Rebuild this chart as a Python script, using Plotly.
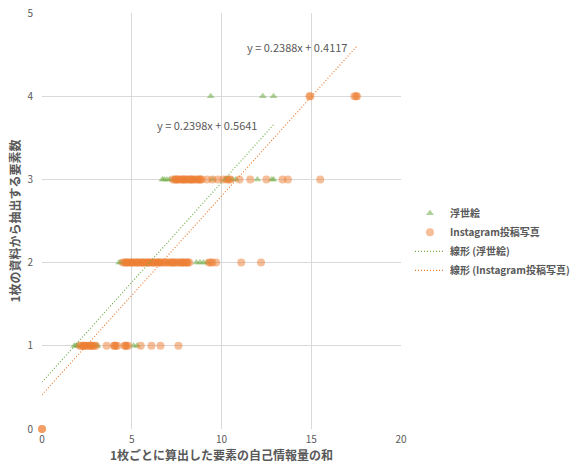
import plotly.graph_objects as go

# ---- data -------------------------------------------------------------
# 浮世絵 (ukiyo-e): x = sum of self-information, y = number of elements
ukiyoe_x = [
    1.8, 1.9, 2.0, 2.2, 2.5, 2.8, 3.0, 3.1, 5.1, 5.3,
    4.3, 4.4, 4.6, 5.0, 5.5, 6.0, 6.5, 7.0, 8.6, 8.8, 9.0, 9.2,
    6.7, 6.8, 6.95, 7.1, 7.3, 8.0, 8.5, 9.5, 10.2, 10.4, 10.6, 10.8, 12.0, 12.8, 12.9,
    9.4, 12.3, 12.9,
]
ukiyoe_y = [
    1, 1, 1, 1, 1, 1, 1, 1, 1, 1,
    2, 2, 2, 2, 2, 2, 2, 2, 2, 2, 2, 2,
    3, 3, 3, 3, 3, 3, 3, 3, 3, 3, 3, 3, 3, 3, 3,
    4, 4, 4,
]

# Instagram投稿写真 (Instagram posts)
insta_x0 = [0.0, 0.0]
insta_x1 = [2.1, 2.2, 2.3, 2.35, 2.4, 2.5, 2.6, 2.7, 2.75, 2.8, 2.9, 3.0,
            3.6, 4.0, 4.05, 4.1, 4.2, 4.6, 4.65, 4.7, 4.8, 5.5, 6.1, 6.6, 7.6]
insta_x2 = [4.5, 4.6, 4.7, 4.8, 4.9, 5.0, 5.1, 5.2, 5.3, 5.4, 5.5, 5.6, 5.7,
            5.8, 5.9, 6.0, 6.1, 6.2, 6.3, 6.4, 6.5, 6.6, 6.7, 6.8, 6.9, 7.0,
            7.1, 7.2, 7.3, 7.4, 7.5, 7.6, 7.7, 7.8, 7.9, 8.0, 8.1, 8.2,
            4.7, 5.0, 5.3, 5.6, 5.9, 6.2, 6.5, 7.3, 7.8, 8.1,
            9.3, 9.4, 9.5, 9.7, 11.1, 12.2]
insta_x3 = [7.3, 7.4, 7.5, 7.6, 7.7, 7.8, 7.9, 8.0, 8.1, 8.2, 8.3, 8.4, 8.5,
            8.6, 8.7, 8.8, 8.9, 7.5, 7.9, 8.3, 8.8,
            9.2, 9.5, 9.8, 10.1, 10.3, 10.4, 10.5, 11.0, 11.6, 12.5, 13.4, 13.7, 15.5]
insta_x4 = [14.9, 14.95, 17.4, 17.5, 17.55]

insta_x = insta_x0 + insta_x1 + insta_x2 + insta_x3 + insta_x4
insta_y = ([0] * len(insta_x0) + [1] * len(insta_x1) + [2] * len(insta_x2)
           + [3] * len(insta_x3) + [4] * len(insta_x4))

# linear trendlines (slope, intercept) and their x extents
ukiyoe_fit = (0.2398, 0.5641)
insta_fit = (0.2388, 0.4117)
ukiyoe_fit_x = [0, 12.95]
insta_fit_x = [0, 17.55]

GREEN = "#70AD47"
ORANGE = "#ED7D31"
TXT = "#595959"
FONT = "Noto Sans CJK JP"

fig = go.Figure()

fig.add_trace(go.Scatter(
    x=ukiyoe_x, y=ukiyoe_y, mode="markers", name="浮世絵",
    marker=dict(symbol="triangle-up", size=7, color=GREEN, opacity=0.55),
    cliponaxis=False,
))
fig.add_trace(go.Scatter(
    x=insta_x, y=insta_y, mode="markers", name="Instagram投稿写真",
    marker=dict(symbol="circle", size=8, color=ORANGE, opacity=0.5),
    cliponaxis=False,
))
fig.add_trace(go.Scatter(
    x=ukiyoe_fit_x, y=[ukiyoe_fit[0] * v + ukiyoe_fit[1] for v in ukiyoe_fit_x],
    mode="lines", name="線形 (浮世絵)",
    line=dict(color=GREEN, width=1.2, dash="1px,2px"),
))
fig.add_trace(go.Scatter(
    x=insta_fit_x, y=[insta_fit[0] * v + insta_fit[1] for v in insta_fit_x],
    mode="lines", name="線形 (Instagram投稿写真)",
    line=dict(color=ORANGE, width=1.2, dash="1px,2px"),
))

eq_font = dict(family=FONT, size=11, color=TXT)
fig.add_annotation(x=14.2, y=4.59, text=f"y = {insta_fit[0]}x + {insta_fit[1]}",
                   showarrow=False, font=eq_font)
fig.add_annotation(x=9.2, y=3.65, text=f"y = {ukiyoe_fit[0]}x + {ukiyoe_fit[1]}",
                   showarrow=False, font=eq_font)

axis_common = dict(
    showgrid=True, gridcolor="#D9D9D9", gridwidth=1,
    zeroline=False, showline=False,
    tickfont=dict(family=FONT, size=10, color=TXT),
    ticks="",
)

fig.update_layout(
    width=579, height=467,
    margin=dict(l=42, r=178, t=13, b=38, autoexpand=False),
    paper_bgcolor="white", plot_bgcolor="white",
    font=dict(family=FONT, color=TXT),
    xaxis=dict(range=[0, 20], dtick=5, ticklabelstandoff=3, **axis_common,
               title=dict(text="1枚ごとに算出した要素の自己情報量の和",
                          font=dict(family=FONT, size=12, color=TXT, weight="bold"),
                          standoff=2)),
    yaxis=dict(range=[0, 5], dtick=1, ticklabelstandoff=8, **axis_common,
               title=dict(text="1枚の資料から抽出する要素数",
                          font=dict(family=FONT, size=12, color=TXT, weight="bold"),
                          standoff=4)),
    legend=dict(x=1.025, y=0.45, xanchor="left", yanchor="middle",
                font=dict(family=FONT, size=10, color=TXT, weight="bold"),
                bgcolor="rgba(0,0,0,0)", itemwidth=30, tracegroupgap=0),
    showlegend=True,
)

fig.write_html("out.html")
